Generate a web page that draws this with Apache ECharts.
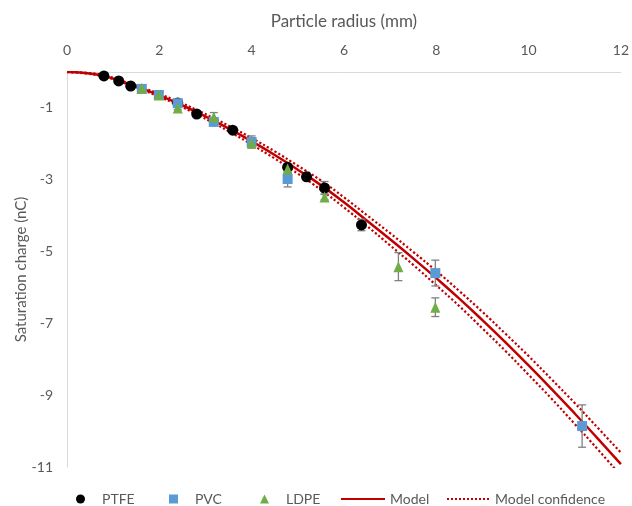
<!DOCTYPE html>
<html>
<head>
<meta charset="utf-8">
<script src="https://cdn.jsdelivr.net/npm/echarts@6/dist/echarts.min.js"></script>
<style>
  html, body { margin: 0; padding: 0; background: #ffffff; }
  #chart { width: 632px; height: 506px; }
</style>
</head>
<body>
<div id="chart"></div>
<script>
// Measured saturation charge (nC) against particle radius (mm), with standard deviation
const ptfeRadius = [0.80, 1.12, 1.38, 2.40, 2.81, 3.59, 4.78, 5.19, 5.58, 6.38];
const ptfeCharge = [-0.11, -0.25, -0.39, -0.86, -1.17, -1.62, -2.65, -2.92, -3.23, -4.26];
const ptfeError  = [0.03, 0.03, 0.04, 0.06, 0.05, 0.06, 0.08, 0.06, 0.18, 0.16];

const pvcRadius = [1.62, 1.99, 2.40, 3.18, 4.00, 4.78, 7.98, 11.16];
const pvcCharge = [-0.47, -0.64, -0.87, -1.39, -1.95, -2.98, -5.60, -9.86];
const pvcError  = [0.03, 0.03, 0.06, 0.08, 0.17, 0.22, 0.36, 0.59];

const ldpeRadius = [1.62, 1.99, 2.40, 3.18, 4.00, 4.78, 5.58, 7.18, 7.98];
const ldpeCharge = [-0.45, -0.64, -1.00, -1.25, -1.98, -2.70, -3.48, -5.42, -6.55];
const ldpeError  = [0.03, 0.03, 0.05, 0.12, 0.12, 0.10, 0.08, 0.39, 0.26];

// Model curve and its confidence limits
const modelRadius = [0, 0.4, 0.8, 1.2, 1.6, 2.0, 2.4, 2.8, 3.2, 3.6, 4.0, 4.5, 5.0, 5.5, 6.0, 6.5, 7.0, 7.5, 8.0, 8.5, 9.0, 9.5, 10.0, 10.5, 11.0, 11.5, 12.0];
const modelCharge = [0, -0.03, -0.11, -0.27, -0.45, -0.65, -0.87, -1.11, -1.37, -1.64, -1.93, -2.31, -2.72, -3.15, -3.63, -4.14, -4.66, -5.19, -5.74, -6.31, -6.91, -7.53, -8.17, -8.83, -9.51, -10.21, -10.92];
const confUpper   = [0, -0.02, -0.09, -0.25, -0.42, -0.61, -0.82, -1.05, -1.30, -1.56, -1.84, -2.21, -2.61, -3.02, -3.49, -3.99, -4.49, -5.01, -5.54, -6.10, -6.68, -7.29, -7.91, -8.56, -9.22, -9.91, -10.60];
const confLower   = [0, -0.04, -0.13, -0.29, -0.48, -0.69, -0.92, -1.17, -1.44, -1.72, -2.02, -2.41, -2.83, -3.28, -3.77, -4.29, -4.83, -5.37, -5.94, -6.52, -7.14, -7.77, -8.43, -9.10, -9.80, -10.51, -11.24];

// Axis ticks
const xTicks = [0, 2, 4, 6, 8, 10, 12];
const yTicks = [-11, -9, -7, -5, -3, -1];

const FONT = 'Lato, "Open Sans", sans-serif';
const TEXT = '#595959';
const RED = '#C00000';

const pairs = (xs, ys) => xs.map((x, i) => [x, ys[i]]);
const bars = (xs, ys, es) => xs.map((x, i) => [x, ys[i] - es[i], ys[i] + es[i]]);

function renderErrorBar(params, api) {
  const x = api.value(0);
  const lo = api.coord([x, api.value(1)]);
  const hi = api.coord([x, api.value(2)]);
  const hw = 4;
  const style = { stroke: '#808080', lineWidth: 1.3, fill: null };
  return {
    type: 'group',
    children: [
      { type: 'line', shape: { x1: lo[0], y1: lo[1], x2: hi[0], y2: hi[1] }, style: style },
      { type: 'line', shape: { x1: lo[0] - hw, y1: lo[1], x2: lo[0] + hw, y2: lo[1] }, style: style },
      { type: 'line', shape: { x1: hi[0] - hw, y1: hi[1], x2: hi[0] + hw, y2: hi[1] }, style: style }
    ]
  };
}

function errorSeries(xs, ys, es) {
  return {
    type: 'custom',
    renderItem: renderErrorBar,
    data: bars(xs, ys, es),
    encode: { x: 0, y: [1, 2] },
    z: 3,
    silent: true,
    tooltip: { show: false }
  };
}

// One legend entry per component so each sits where it belongs on the bottom row
function markerLegend(name, icon, left, gap) {
  return {
    data: [{ name: name, icon: icon }],
    left: left, top: 492,
    itemWidth: 9, itemHeight: 9, itemGap: 0, padding: 0,
    itemStyle: { opacity: 1 },
    textStyle: { color: TEXT, fontFamily: FONT, fontSize: 14, padding: [0, 0, 0, gap] }
  };
}
function lineLegend(name, left, width) {
  return {
    data: [name],
    left: left, top: 492,
    itemWidth: width, itemHeight: 9, itemGap: 0, padding: 0,
    itemStyle: { opacity: 0 },
    textStyle: { color: TEXT, fontFamily: FONT, fontSize: 14, padding: [0, 0, 0, 0] }
  };
}

const chart = echarts.init(document.getElementById('chart'), null, { renderer: 'canvas' });

chart.setOption({
  animation: false,
  backgroundColor: '#ffffff',
  grid: { left: 67, right: 8, top: 72, bottom: 39, containLabel: false },
  legend: [
    markerLegend('PTFE', 'circle', 76, 12),
    markerLegend('PVC', 'rect', 169, 12),
    markerLegend('LDPE', 'triangle', 260, 12),
    lineLegend('Model', 340, 44),
    lineLegend('Model confidence', 446, 43)
  ],
  xAxis: {
    type: 'value',
    position: 'top',
    min: xTicks[0],
    max: xTicks[xTicks.length - 1],
    interval: 2,
    name: 'Particle radius (mm)',
    nameLocation: 'middle',
    nameGap: 42,
    nameTextStyle: { color: TEXT, fontFamily: FONT, fontSize: 17 },
    axisLine: { onZero: false, lineStyle: { color: '#d9d9d9', width: 1 } },
    axisTick: { show: false },
    splitLine: { show: false },
    axisLabel: { color: TEXT, fontFamily: FONT, fontSize: 14, margin: 15 }
  },
  yAxis: {
    type: 'value',
    min: yTicks[0],
    max: 0,
    interval: 2,
    name: 'Saturation charge (nC)',
    nameLocation: 'middle',
    nameGap: 38,
    nameMoveOverlap: false,
    nameRotate: 90,
    nameTextStyle: { color: TEXT, fontFamily: FONT, fontSize: 15 },
    axisLine: { show: true, lineStyle: { color: '#d9d9d9', width: 1 } },
    axisTick: { show: false },
    splitLine: { show: false },
    axisLabel: {
      color: TEXT, fontFamily: FONT, fontSize: 14, margin: 14,
      formatter: v => (yTicks.indexOf(v) >= 0 ? String(v) : '')
    }
  },
  series: [
    {
      name: 'Model confidence', type: 'line', data: pairs(modelRadius, confUpper),
      showSymbol: false, symbol: 'none', smooth: true, z: 1,
      lineStyle: { color: RED, width: 2.2, type: 'dotted' }, itemStyle: { color: RED }
    },
    {
      name: 'Model confidence', type: 'line', data: pairs(modelRadius, confLower),
      showSymbol: false, symbol: 'none', smooth: true, z: 1,
      lineStyle: { color: RED, width: 2.2, type: 'dotted' }, itemStyle: { color: RED }
    },
    {
      name: 'Model', type: 'line', data: pairs(modelRadius, modelCharge),
      showSymbol: false, symbol: 'none', smooth: true, z: 2,
      lineStyle: { color: RED, width: 2.5 }, itemStyle: { color: RED }
    },
    errorSeries(ptfeRadius, ptfeCharge, ptfeError),
    errorSeries(pvcRadius, pvcCharge, pvcError),
    errorSeries(ldpeRadius, ldpeCharge, ldpeError),
    {
      name: 'PTFE', type: 'scatter', data: pairs(ptfeRadius, ptfeCharge),
      symbol: 'circle', symbolSize: 11, z: 4,
      itemStyle: { color: '#000000', opacity: 1 }
    },
    {
      name: 'PVC', type: 'scatter', data: pairs(pvcRadius, pvcCharge),
      symbol: 'rect', symbolSize: 10, z: 5,
      itemStyle: { color: '#5B9BD5', opacity: 1 }
    },
    {
      name: 'LDPE', type: 'scatter', data: pairs(ldpeRadius, ldpeCharge),
      symbol: 'triangle', symbolSize: [10, 11], z: 6,
      itemStyle: { color: '#70AD47', opacity: 1 }
    }
  ]
});
</script>
</body>
</html>
